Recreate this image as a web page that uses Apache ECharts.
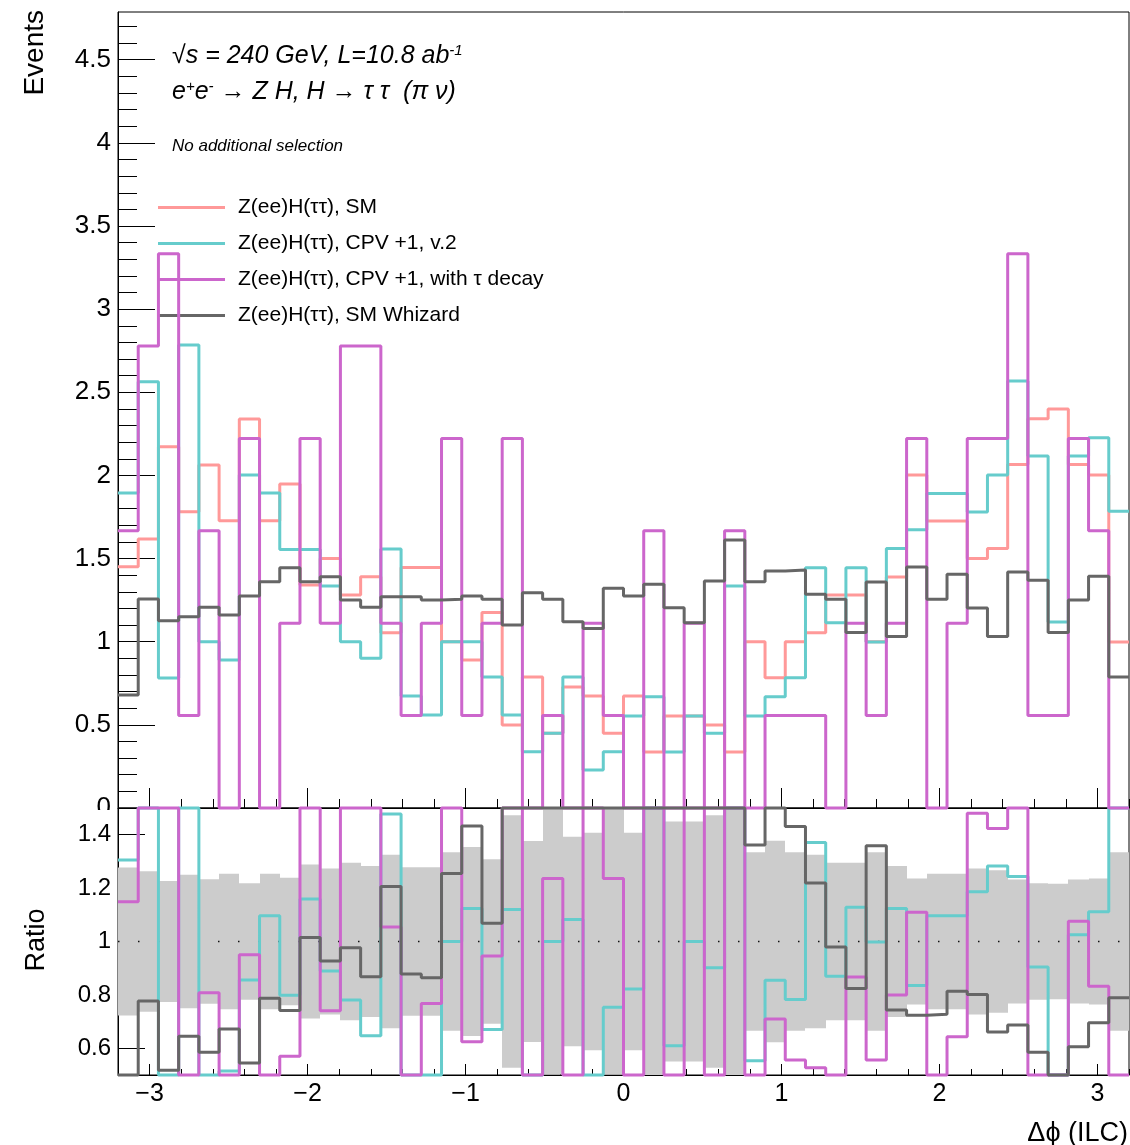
<!DOCTYPE html>
<html><head><meta charset="utf-8">
<script src="https://cdn.jsdelivr.net/npm/echarts@6/dist/echarts.min.js"></script>
<style>html,body{margin:0;padding:0;background:#fff}#c{width:1130px;height:1145px}</style>
</head><body><div id="c"></div>
<script>
// ---- data ----
const X_MIN = -3.2, X_MAX = 3.2, N_BINS = 50;
const seriesNames = ['Z(ee)H(ττ), SM', 'Z(ee)H(ττ), CPV +1, v.2', 'Z(ee)H(ττ), CPV +1, with τ decay', 'Z(ee)H(ττ), SM Whizard'];
const smValues = [1.451,1.618,2.173,1.782,2.063,1.728,2.339,1.728,1.948,1.341,
  1.501,1.281,1.391,1.054,1.447,1.447,1.000,0.890,1.175,0.499,
  0.788,0.450,0.728,0.673,0.450,0.673,0.337,0.553,0.553,0.499,
  0.337,1.000,0.783,1.000,1.054,1.281,1.281,1.000,1.389,2.003,
  1.726,1.726,1.501,1.561,2.065,2.341,2.399,2.065,2.003,0.998];
const cpvValues = [1.894,2.563,0.782,2.784,1.000,0.890,2.002,1.894,1.555,1.555,
  1.335,1.000,0.900,1.557,0.673,0.559,1.000,1.000,0.788,0.559,
  0.339,0.450,0.788,0.228,0.339,0.553,0.669,0.337,0.553,0.450,
  1.335,0.553,0.669,0.783,1.445,1.114,1.445,0.998,1.561,1.673,
  1.892,1.892,1.780,2.003,2.568,2.117,1.118,2.117,2.226,1.784];
const cpvTauValues = [1.667,2.778,3.333,0.556,1.667,0,2.222,0,1.111,2.222,
  1.111,2.778,2.778,1.111,0.556,1.111,2.222,0.556,1.111,2.222,
  0,0.556,0,1.111,0.556,0,1.667,0,1.111,0,
  1.667,0,0.556,0.556,0.556,0,1.111,0.556,1.111,2.222,
  0,1.111,2.222,2.222,3.333,0.556,0.556,2.222,1.667,0];
const whizardValues = [0.679,1.257,1.126,1.150,1.207,1.161,1.275,1.361,1.445,1.361,
  1.391,1.251,1.207,1.271,1.271,1.251,1.255,1.275,1.255,1.100,
  1.295,1.255,1.120,1.080,1.321,1.275,1.345,1.205,1.114,1.365,
  1.612,1.361,1.425,1.431,1.285,1.255,1.056,1.359,1.032,1.450,
  1.255,1.405,1.203,1.032,1.420,1.370,1.055,1.251,1.393,0.788];
// half width of the grey uncertainty band in the ratio panel
const bandHalfWidth = [0.277,0.263,0.227,0.250,0.233,0.254,0.218,0.254,0.239,0.288,
  0.273,0.295,0.283,0.325,0.278,0.278,0.334,0.354,0.308,0.473,
  0.376,0.498,0.392,0.407,0.498,0.407,0.575,0.449,0.449,0.473,
  0.575,0.334,0.377,0.334,0.325,0.295,0.295,0.334,0.283,0.236,
  0.254,0.254,0.273,0.267,0.232,0.218,0.216,0.232,0.236,0.334];
const xTickLabels = [-3,-2,-1,0,1,2,3];
const yTickLabels = [0,0.5,1,1.5,2,2.5,3,3.5,4,4.5];
const ratioTickLabels = [0.6,0.8,1,1.2,1.4];

// ---- helpers ----
const colors = ['#ff9999','#66cccc','#cc66cc','#666666'];
const Y_MAX = 4.787, R_MIN = 0.5, R_MAX = 1.5;
const binW = (X_MAX - X_MIN) / N_BINS;
const edges = [];
for (let i = 0; i <= N_BINS; i++) edges.push(+(X_MIN + i * binW).toFixed(4));
function stepData(vals) {
  const d = vals.map((v, i) => [edges[i], v]);
  d.push([edges[N_BINS], vals[N_BINS - 1]]);
  return d;
}
const clampR = v => Math.min(Math.max(v, R_MIN), R_MAX);
const ratioOf = vals => vals.map((v, i) => clampR(v / smValues[i]));
const bandData = bandHalfWidth.map((e, i) => [edges[i], edges[i + 1], clampR(1 - e), clampR(1 + e)]);

const minorX = [], minorY = [];
for (let i = -16; i <= 16; i++) { if (i % 5 !== 0) minorX.push(+(i * 0.2).toFixed(2)); }
for (let i = 1; i <= 47; i++) { if (i % 5 !== 0) minorY.push(+(i * 0.1).toFixed(2)); }

const FONT = 'Liberation Sans';
const minus = v => String(v).replace('-', '\u2212');
const black = '#000';
const noLine = {show: false, onZero: false};
const axLine = {show: true, onZero: false, lineStyle: {color: black, width: 1}};

const option = {
  animation: false,
  backgroundColor: '#fff',
  grid: [
    {left: 118, top: 12, width: 1011, height: 796, show: true, borderColor: black, borderWidth: 1, backgroundColor: 'transparent'},
    {left: 118, top: 808, width: 1011, height: 267, show: true, borderColor: black, borderWidth: 1, backgroundColor: 'transparent'}
  ],
  xAxis: [
    {gridIndex: 0, type: 'value', min: X_MIN, max: X_MAX, position: 'bottom', axisLine: axLine,
      axisTick: {show: true, inside: true, length: 20, customValues: xTickLabels, lineStyle: {color: black, width: 1}},
      axisLabel: {show: false, customValues: xTickLabels}, splitLine: {show: false}},
    {gridIndex: 0, type: 'value', min: X_MIN, max: X_MAX, position: 'bottom', axisLine: noLine,
      axisTick: {show: true, inside: true, length: 9, customValues: minorX, lineStyle: {color: black, width: 1}},
      axisLabel: {show: false, customValues: minorX}, splitLine: {show: false}},
    {gridIndex: 1, type: 'value', min: X_MIN, max: X_MAX, position: 'bottom', axisLine: axLine,
      axisTick: {show: true, inside: true, length: 11, customValues: xTickLabels, lineStyle: {color: black, width: 1}},
      axisLabel: {show: true, customValues: xTickLabels, margin: 7, formatter: minus, fontFamily: FONT, fontSize: 25, color: black},
      splitLine: {show: false}},
    {gridIndex: 1, type: 'value', min: X_MIN, max: X_MAX, position: 'bottom', axisLine: noLine,
      axisTick: {show: true, inside: true, length: 6, customValues: minorX, lineStyle: {color: black, width: 1}},
      axisLabel: {show: false, customValues: minorX}, splitLine: {show: false}}
  ],
  yAxis: [
    {gridIndex: 0, type: 'value', min: 0, max: Y_MAX, position: 'left', axisLine: axLine,
      axisTick: {show: true, inside: true, length: 37, customValues: yTickLabels, lineStyle: {color: black, width: 1}},
      axisLabel: {show: true, customValues: yTickLabels, margin: 7, fontFamily: FONT, fontSize: 26, color: black},
      splitLine: {show: false}},
    {gridIndex: 0, type: 'value', min: 0, max: Y_MAX, position: 'left', axisLine: noLine,
      axisTick: {show: true, inside: true, length: 19, customValues: minorY, lineStyle: {color: black, width: 1}},
      axisLabel: {show: false, customValues: minorY}, splitLine: {show: false}},
    {gridIndex: 1, type: 'value', min: R_MIN, max: R_MAX, position: 'left', axisLine: axLine,
      axisTick: {show: true, inside: true, length: 27, customValues: ratioTickLabels, lineStyle: {color: black, width: 1}},
      axisLabel: {show: true, customValues: ratioTickLabels, margin: 7, fontFamily: FONT, fontSize: 24, color: black},
      splitLine: {show: false}}
  ],
  legend: {
    left: 158, top: 197, padding: 0, orient: 'vertical', icon: 'rect', itemWidth: 67, itemHeight: 3, itemGap: 15,
    selectedMode: false, data: seriesNames,
    textStyle: {fontFamily: FONT, fontSize: 21, color: black, lineHeight: 20, padding: [0, 0, 0, 8]}
  },
  series: [
    // ratio uncertainty band
    {name: 'band', type: 'custom', xAxisIndex: 2, yAxisIndex: 2, data: bandData, silent: true, z: 1,
      encode: {x: [0, 1], y: [2, 3]},
      renderItem: function (params, api) {
        const p0 = api.coord([api.value(0), api.value(3)]);
        const p1 = api.coord([api.value(1), api.value(2)]);
        const x0 = Math.round(p0[0]), x1 = Math.round(p1[0]);
        return {type: 'rect', shape: {x: x0, y: p0[1], width: x1 - x0, height: p1[1] - p0[1]}, style: {fill: '#cccccc'}};
      }},
    {name: 'unity', type: 'line', xAxisIndex: 2, yAxisIndex: 2, data: [[X_MIN, 1], [X_MAX, 1]],
      showSymbol: false, lineStyle: {color: '#111', width: 1.3, type: [1.5, 18.5]}, z: 2, silent: true},
    // top histograms
    {name: seriesNames[0], type: 'line', xAxisIndex: 0, yAxisIndex: 0, step: 'end', data: stepData(smValues),
      showSymbol: false, color: colors[0], lineStyle: {color: colors[0], width: 3}, z: 3, clip: false},
    {name: seriesNames[1], type: 'line', xAxisIndex: 0, yAxisIndex: 0, step: 'end', data: stepData(cpvValues),
      showSymbol: false, color: colors[1], lineStyle: {color: colors[1], width: 3}, z: 4, clip: false},
    {name: seriesNames[2], type: 'line', xAxisIndex: 0, yAxisIndex: 0, step: 'end', data: stepData(cpvTauValues),
      showSymbol: false, color: colors[2], lineStyle: {color: colors[2], width: 3}, z: 5, clip: false},
    {name: seriesNames[3], type: 'line', xAxisIndex: 0, yAxisIndex: 0, step: 'end', data: stepData(whizardValues),
      showSymbol: false, color: colors[3], lineStyle: {color: colors[3], width: 3}, z: 6, clip: false},
    // ratio panel
    {name: 'ratio cpv', type: 'line', xAxisIndex: 2, yAxisIndex: 2, step: 'end', data: stepData(ratioOf(cpvValues)),
      showSymbol: false, lineStyle: {color: colors[1], width: 3}, z: 4, clip: false},
    {name: 'ratio cpv tau', type: 'line', xAxisIndex: 2, yAxisIndex: 2, step: 'end', data: stepData(ratioOf(cpvTauValues)),
      showSymbol: false, lineStyle: {color: colors[2], width: 3}, z: 5, clip: false},
    {name: 'ratio whizard', type: 'line', xAxisIndex: 2, yAxisIndex: 2, step: 'end', data: stepData(ratioOf(whizardValues)),
      showSymbol: false, lineStyle: {color: colors[3], width: 3}, z: 6, clip: false}
  ],
  graphic: [
    {type: 'rect', z: 100, shape: {x: 40, y: 810, width: 76, height: 13}, style: {fill: '#fff'}},
    {type: 'text', z: 100, x: 35, y: 10, rotation: Math.PI / 2,
      style: {text: 'Events', fontFamily: FONT, fontSize: 28, fill: black, align: 'right', verticalAlign: 'middle', textAlign: 'right', textVerticalAlign: 'middle'}},
    {type: 'text', z: 100, x: 37, y: 940, rotation: Math.PI / 2,
      style: {text: 'Ratio', fontFamily: FONT, fontSize: 27, fill: black, align: 'center', verticalAlign: 'middle', textAlign: 'center', textVerticalAlign: 'middle'}},
    {type: 'text', z: 100, x: 1128, y: 1134,
      style: {text: 'Δϕ (ILC)', fontFamily: FONT, fontSize: 27, fill: black, align: 'right', verticalAlign: 'middle', textAlign: 'right', textVerticalAlign: 'middle'}},
    {type: 'text', z: 100, x: 172, y: 43,
      style: {text: '{m|√s = 240 GeV, L=10.8 ab}{s|-1}', fill: black, align: 'left', verticalAlign: 'top',
        rich: {m: {fontFamily: FONT, fontSize: 25, fontStyle: 'italic', lineHeight: 27, fill: black},
               s: {fontFamily: FONT, fontSize: 15, fontStyle: 'italic', lineHeight: 27, verticalAlign: 'top', fill: black}}}},
    {type: 'text', z: 100, x: 172, y: 79,
      style: {text: '{m|e}{s|+}{m|e}{s|-}{m| → Z H, H → τ τ  (π ν)}', fill: black, align: 'left', verticalAlign: 'top',
        rich: {m: {fontFamily: FONT, fontSize: 25, fontStyle: 'italic', lineHeight: 27, fill: black},
               s: {fontFamily: FONT, fontSize: 15, fontStyle: 'italic', lineHeight: 27, verticalAlign: 'top', fill: black}}}},
    {type: 'text', z: 100, x: 172, y: 146,
      style: {text: 'No additional selection', fontFamily: FONT, fontSize: 17, fontStyle: 'italic', fill: black, align: 'left', verticalAlign: 'middle', textAlign: 'left', textVerticalAlign: 'middle'}}
  ]
};
const chart = echarts.init(document.getElementById('c'), null, {renderer: 'canvas'});
chart.setOption(option);
</script></body></html>
